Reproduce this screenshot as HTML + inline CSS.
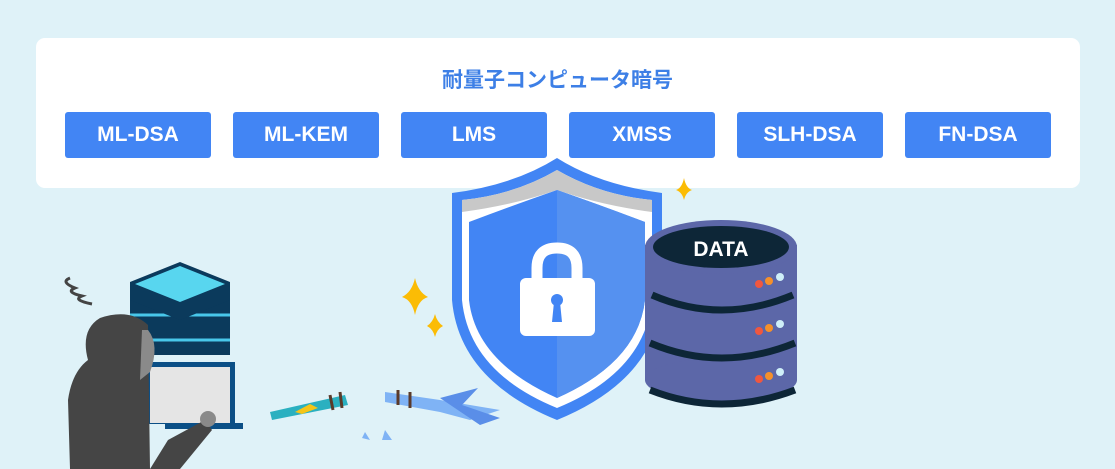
<!DOCTYPE html>
<html><head><meta charset="utf-8"><style>
html,body{margin:0;padding:0;}
body{width:1115px;height:469px;background:#dff2f8;overflow:hidden;position:relative;font-family:"Liberation Sans","Noto Sans CJK JP",sans-serif;}
.panel{position:absolute;left:36px;top:38px;width:1044px;height:150px;background:#fff;border-radius:9px;}
.title{position:absolute;left:0;width:1115px;top:64px;text-align:center;color:#3d7fe6;font-weight:bold;font-size:21px;font-family:"Liberation Sans","Noto Sans CJK JP",sans-serif;}
.b{position:absolute;top:112px;width:146px;height:46px;background:#4285f4;border-radius:3px;color:#fff;font-weight:bold;font-size:21px;line-height:46px;text-align:center;}
svg{position:absolute;left:0;top:0;}
</style></head><body>
<div class="panel"></div>
<div class="title">耐量子コンピュータ暗号</div>
<div class="b" style="left:65px">ML-DSA</div>
<div class="b" style="left:233px">ML-KEM</div>
<div class="b" style="left:401px">LMS</div>
<div class="b" style="left:569px">XMSS</div>
<div class="b" style="left:737px">SLH-DSA</div>
<div class="b" style="left:905px">FN-DSA</div>
<svg width="1115" height="469" viewBox="0 0 1115 469">
<!-- shield -->
<path d="M557 158 Q600 185 662 193 L662 300 Q655 380 557 420 Q459 380 452 300 L452 193 Q514 185 557 158Z" fill="#4285f4"/>
<path d="M557 170 Q600 195 652 200 L652 300 Q645 372 557 408 Q469 372 462 300 L462 200 Q514 195 557 170Z" fill="#fff"/>
<path d="M557 170 Q600 195 652 200 L652 212 Q600 205 557 190 Q514 205 462 212 L462 200 Q514 195 557 170Z" fill="#c8c8c8"/>
<path d="M557 190 Q600 205 645 222 L645 300 Q638 362 557 398 Q476 362 469 300 L469 222 Q514 205 557 190Z" fill="#4285f4"/>
<path d="M557 190 Q600 205 645 222 L645 300 Q638 362 557 398Z" fill="#5591f0"/>
<path d="M537 282 L537 268 Q537 248 557 248 Q577 248 577 268 L577 282" fill="none" stroke="#fff" stroke-width="11"/>
<rect x="520" y="278" width="75" height="58" rx="6" fill="#fff"/>
<circle cx="557" cy="300" r="6" fill="#4285f4"/><path d="M554 302 L552 322 L562 322 L560 302Z" fill="#4285f4"/>
<!-- database -->
<g>
<path d="M645 245 L645 380 Q721 410 797 380 L797 245Z" fill="#5c67a8"/>
<ellipse cx="721" cy="380" rx="76" ry="22" fill="#5c67a8"/>
<path d="M652 295 Q721 325 793 295" stroke="#0d2637" stroke-width="7" fill="none"/>
<path d="M650 343 Q721 373 795 343" stroke="#0d2637" stroke-width="7" fill="none"/>
<path d="M650 390 Q721 418 795 390" stroke="#0d2637" stroke-width="7" fill="none"/>
<ellipse cx="721" cy="247" rx="76" ry="27" fill="#5c67a8"/>
<ellipse cx="721" cy="247" rx="68" ry="21" fill="#0d2637"/>
<text x="721" y="256" text-anchor="middle" fill="#fff" font-weight="bold" font-size="21" font-family="Liberation Sans">DATA</text>
<g id="d"><circle cx="759" cy="284" r="4" fill="#f0573f"/><circle cx="769" cy="281" r="4" fill="#f5902a"/><circle cx="780" cy="277" r="4" fill="#cfeff8"/></g>
<use href="#d" y="47"/><use href="#d" y="95"/>
</g>
<!-- sparkles -->
<path d="M684 178 Q686 188 692 190 Q686 192 684 200 Q682 192 676 190 Q682 188 684 178Z" fill="#fbbc05"/>
<path d="M415 278 Q418 292 428 297 Q418 300 415 315 Q412 300 402 297 Q412 292 415 278Z" fill="#fbbc05"/>
<path d="M435 314 Q437 322 443 326 Q437 329 435 337 Q433 329 427 326 Q433 322 435 314Z" fill="#fbbc05"/>
<!-- server stack -->
<path d="M130 300 L130 355 L230 355 L230 300Z" fill="#0b3a5c"/>
<path d="M130 315 L230 315 M130 340 L230 340" stroke="#48c7ea" stroke-width="3"/>
<path d="M180 262 L230 282 L230 300 L180 320 L130 300 L130 282Z" fill="#0b3a5c"/>
<path d="M180 266 L225 284 L180 302 L135 284Z" fill="#58d6ef"/>
<!-- laptop -->
<rect x="145" y="362" width="90" height="62" fill="#0b4f86"/>
<rect x="150" y="367" width="80" height="56" fill="#e5e5e5"/>
<rect x="165" y="423" width="78" height="6" fill="#0b4f86"/>
<!-- hacker -->
<path d="M70 469 L68 400 Q72 372 88 360 Q80 330 100 318 Q130 308 148 325 L150 469Z" fill="#454545"/>
<path d="M148 330 Q160 345 150 372 L140 380 L142 330Z" fill="#8a8a8a"/>
<path d="M150 469 L168 440 L205 420 L212 430 L180 469Z" fill="#454545"/>
<circle cx="208" cy="419" r="8" fill="#8a8a8a"/>
<path d="M70 278 Q60 282 75 288 Q65 292 82 296 Q72 300 92 304" stroke="#444" stroke-width="3" fill="none"/>
<!-- broken sword -->
<path d="M270 412 L345 395 L348 405 L272 420Z" fill="#2ab0c0"/>
<path d="M295 412 L310 404 L318 408 L302 414Z" fill="#f5c518"/>
<path d="M385 392 L440 400 L500 410 L470 420 L440 412 L385 402Z" fill="#7fb3f5"/>
<path d="M440 398 L478 388 L462 405 L500 418 L480 425Z" fill="#5a8ee8"/>
<path d="M330 395 L333 410 M340 392 L342 408 M398 390 L398 405 M410 392 L410 408" stroke="#5a3a2a" stroke-width="3"/>
<path d="M365 432 L370 440 L362 438Z M385 430 L392 440 L382 440Z" fill="#7fb3f5"/>
</svg>
</body></html>
